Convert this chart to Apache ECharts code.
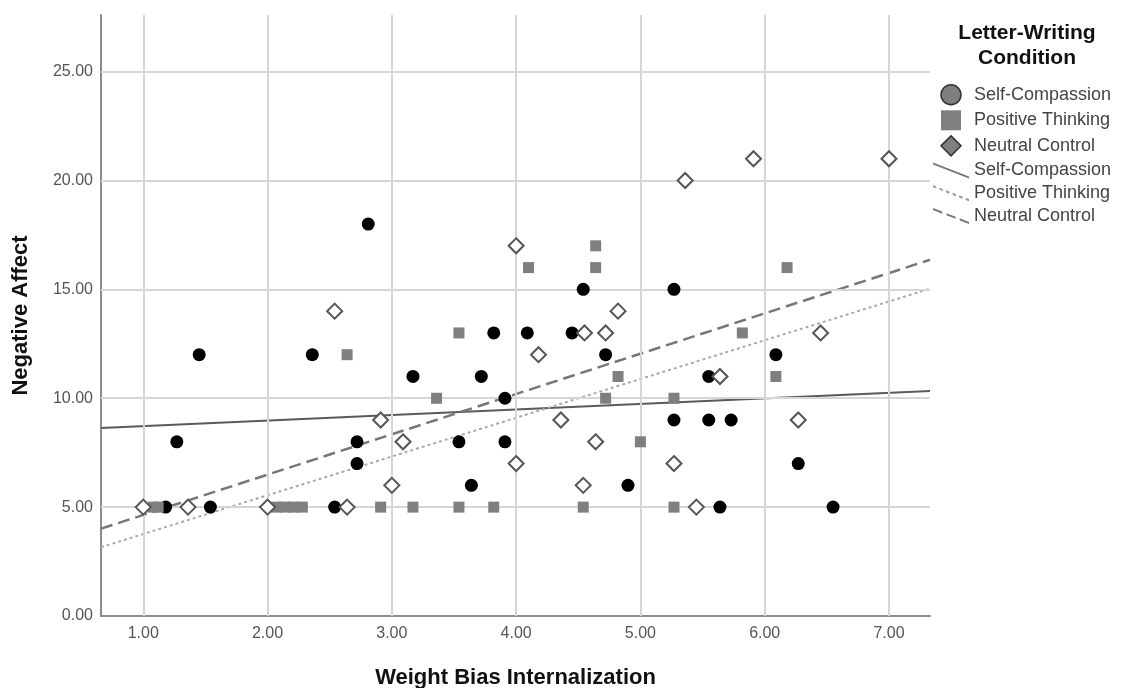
<!DOCTYPE html>
<html>
<head>
<meta charset="utf-8">
<script src="https://cdn.jsdelivr.net/npm/echarts@6/dist/echarts.min.js"></script>
<style>
  html, body { margin: 0; padding: 0; background: #fff; }
  #chart { width: 1121px; height: 688px; }
</style>
</head>
<body>
<div id="chart"></div>
<script>
// 数据：从图中读取
const scX = [1.18, 1.27, 1.45, 1.54, 2.36, 2.54, 2.72, 2.72, 2.81, 3.17, 3.54, 3.64, 3.72, 3.82, 3.91, 3.91, 4.09, 4.45, 4.54, 4.72, 4.90, 5.27, 5.27, 5.55, 5.55, 5.73, 5.64, 6.09, 6.27, 6.55]
const scY = [5, 8, 12, 5, 12, 5, 8, 7, 18, 11, 8, 6, 11, 13, 10, 8, 13, 13, 15, 12, 6, 15, 9, 11, 9, 9, 5, 12, 7, 5]

const ptX = [1.08, 1.12, 2.07, 2.14, 2.21, 2.28, 2.91, 2.64, 3.17, 3.54, 3.82, 3.36, 3.54, 4.10, 4.64, 4.64, 4.72, 4.82, 4.54, 5.00, 5.27, 5.27, 5.82, 6.09, 6.18]
const ptY = [5, 5, 5, 5, 5, 5, 5, 12, 5, 5, 5, 10, 13, 16, 17, 16, 10, 11, 5, 8, 10, 5, 13, 11, 16]

const ncX = [1.00, 1.36, 2.00, 2.64, 2.54, 2.91, 3.00, 3.09, 4.00, 4.18, 4.36, 4.00, 4.55, 4.72, 4.82, 4.64, 4.54, 5.27, 5.45, 5.64, 5.36, 5.91, 7.00, 6.45, 6.27]
const ncY = [5, 5, 5, 5, 14, 9, 6, 8, 17, 12, 9, 7, 13, 13, 14, 8, 6, 7, 5, 11, 20, 21, 21, 13, 9]

// 回归线端点
const scFit = [[0.66, 8.63], [7.33, 10.33]]
const ptFit = [[0.66, 3.16], [7.33, 15.03]]
const ncFit = [[0.66, 4.01], [7.33, 16.36]]

// 刻度
const xTicks = [1, 2, 3, 4, 5, 6, 7]
const yTicks = [0, 5, 10, 15, 20, 25]

const zip = (xs, ys) => xs.map((x, i) => [x, ys[i]])

// 图例里的斜线图标
const diagPath = (dash, gap) => {
  let d = ''
  for (let x = 0; x < 36; x += dash + gap) {
    const x2 = Math.min(x + dash, 36)
    const y1 = 2 + (x * 14) / 36
    const y2 = 2 + (x2 * 14) / 36
    d += `M${x},${y1}L${x2},${y2}L${x2},${y2 + 2}L${x},${y1 + 2}Z`
  }
  return 'path://' + d
}
const squareIcon = 'path://M0,0L10,0L10,10L0,10Z'
const diamondIcon = 'path://M5,0L10,5L5,10L0,5Z'

const gridColor = '#d6d6d6'
const axisColor = '#8c8c8c'
const fontFamily = 'Arial, "Liberation Sans", sans-serif'

const myChart = echarts.init(document.getElementById('chart'))
const option = {
  animation: false,
  backgroundColor: '#fff',
  textStyle: { fontFamily },
  grid: { left: 101, right: 191, top: 15, bottom: 72, outerBoundsMode: 'none', containLabel: false },
  graphic: [
    {
      type: 'text',
      x: 1027,
      y: 45.5,
      style: {
        text: 'Letter-Writing\nCondition',
        align: 'center',
        verticalAlign: 'middle',
        font: 'bold 21px ' + fontFamily,
        lineHeight: 25,
        fill: '#111'
      }
    }
  ],
  legend: {
    orient: 'vertical',
    left: 928,
    top: 79,
    itemWidth: 36,
    itemHeight: 20,
    itemGap: 4.8,
    selectedMode: false,
    formatter: name => name.replace(' Fit', ''),
    textStyle: { fontSize: 18, color: '#444', fontFamily },
    data: [
      { name: 'Self-Compassion', icon: 'circle', itemStyle: { color: '#7f7f7f', borderColor: '#333', borderWidth: 1.5 } },
      { name: 'Positive Thinking', icon: squareIcon, itemStyle: { color: '#7f7f7f', borderWidth: 0 } },
      { name: 'Neutral Control', icon: diamondIcon, itemStyle: { color: '#7f7f7f', borderColor: '#333', borderWidth: 1.5 } },
      { name: 'Self-Compassion Fit', icon: diagPath(36, 0), itemStyle: { color: '#777', borderWidth: 0 } },
      { name: 'Positive Thinking Fit', icon: diagPath(3, 3), itemStyle: { color: '#999', borderWidth: 0 } },
      { name: 'Neutral Control Fit', icon: diagPath(9, 4), itemStyle: { color: '#777', borderWidth: 0 } }
    ]
  },
  xAxis: {
    type: 'value',
    min: 0.66,
    max: 7.33,
    name: 'Weight Bias Internalization',
    nameLocation: 'middle',
    nameGap: 51,
    nameTextStyle: { fontSize: 22, fontWeight: 'bold', color: '#111', fontFamily },
    axisLine: { show: true, onZero: false, lineStyle: { color: axisColor, width: 2 } },
    axisTick: { show: false },
    splitLine: { show: false },
    axisLabel: {
      customValues: xTicks,
      formatter: v => v.toFixed(2),
      fontSize: 16,
      color: '#555',
      margin: 10
    }
  },
  yAxis: {
    type: 'value',
    min: 0,
    max: 27.6,
    name: 'Negative Affect',
    nameLocation: 'middle',
    nameGap: 69,
    nameTextStyle: { fontSize: 22, fontWeight: 'bold', color: '#111', fontFamily },
    axisLine: { show: true, lineStyle: { color: axisColor, width: 2 } },
    axisTick: { show: false },
    splitLine: { show: false },
    axisLabel: {
      customValues: yTicks,
      formatter: v => v.toFixed(2),
      fontSize: 16,
      color: '#555',
      margin: 8
    }
  },
  series: [
    {
      // 网格线
      name: 'grid',
      type: 'line',
      data: [],
      z: 1,
      silent: true,
      markLine: {
        silent: true,
        symbol: 'none',
        label: { show: false },
        animation: false,
        lineStyle: { color: gridColor, width: 2, type: 'solid' },
        data: [
          ...xTicks.map(v => ({ xAxis: v })),
          ...yTicks.filter(v => v > 0).map(v => ({ yAxis: v }))
        ]
      }
    },
    {
      name: 'Self-Compassion Fit',
      type: 'line',
      data: scFit,
      symbol: 'none',
      z: 3,
      color: '#5a5a5a',
      lineStyle: { color: '#5a5a5a', width: 2 }
    },
    {
      name: 'Positive Thinking Fit',
      type: 'line',
      data: ptFit,
      symbol: 'none',
      z: 3,
      color: '#aaa',
      lineStyle: { color: '#aaa', width: 2, type: [3, 3] }
    },
    {
      name: 'Neutral Control Fit',
      type: 'line',
      data: ncFit,
      symbol: 'none',
      z: 3,
      color: '#777',
      lineStyle: { color: '#777', width: 2.5, type: [12, 6] }
    },
    {
      name: 'Self-Compassion',
      type: 'scatter',
      data: zip(scX, scY),
      symbol: 'circle',
      symbolSize: 13,
      z: 5,
      itemStyle: { color: '#000', opacity: 1 }
    },
    {
      name: 'Positive Thinking',
      type: 'scatter',
      data: zip(ptX, ptY),
      symbol: 'rect',
      symbolSize: 11,
      z: 5,
      itemStyle: { color: '#7f7f7f', opacity: 1 }
    },
    {
      name: 'Neutral Control',
      type: 'scatter',
      data: zip(ncX, ncY),
      symbol: 'diamond',
      symbolSize: 15,
      z: 6,
      itemStyle: { color: '#fff', borderColor: '#555', borderWidth: 2, opacity: 1 }
    }
  ]
}
myChart.setOption(option)
</script>
</body>
</html>
